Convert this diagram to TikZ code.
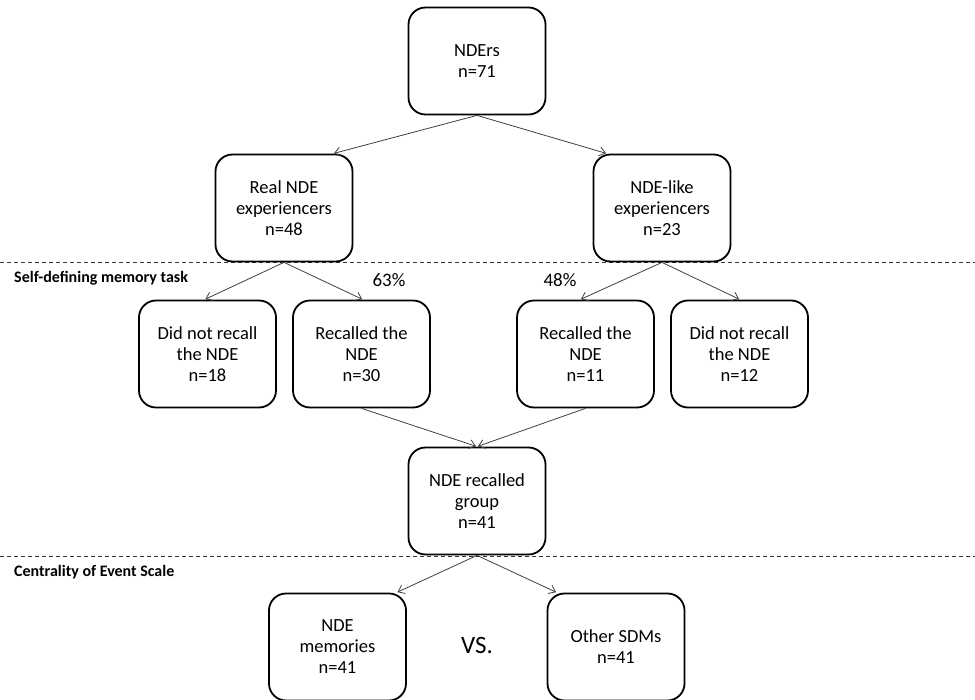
\documentclass[tikz,border=0pt]{standalone}
\usepackage{fontspec}
\setmainfont{Carlito}
\usetikzlibrary{arrows.meta}
\begin{document}
\begin{tikzpicture}[x=1pt,y=-1pt,
  box/.style={draw=black, line width=1.8pt, rounded corners=17pt, minimum width=137pt, minimum height=107pt, align=center, inner sep=2pt, font=\fontsize{18.5}{21}\selectfont},
  conn/.style={draw=black!75, line width=0.8pt, -{Straight Barb[length=6pt,width=9pt]}, shorten >=1pt},
  sep/.style={draw=black!80, line width=0.8pt, dash pattern=on 4pt off 3pt},
  head/.style={font=\fontsize{16}{18}\selectfont\bfseries, anchor=west, inner sep=0pt},
  pct/.style={font=\fontsize{19}{22}\selectfont, inner sep=0pt}]
\useasboundingbox (0,0) rectangle (975,700);
% separators
\coordinate (s1l) at (0,262);
\coordinate (s1r) at (975,262);
\coordinate (s2l) at (0,556);
\coordinate (s2r) at (975,556);
\draw[sep] (s1l) -- (s1r);
\draw[sep] (s2l) -- (s2r);
% boxes
\node[box] (nders) at (477,61) {NDErs\\n=71};
\node[box] (real) at (284,208) {Real NDE\\experiencers\\n=48};
\node[box] (like) at (662,208) {NDE-like\\experiencers\\n=23};
\node[box] (dnl) at (207.5,354) {Did not recall\\the NDE\\n=18};
\node[box] (rl) at (361.5,354) {Recalled the\\NDE\\n=30};
\node[box] (rr) at (585.5,354) {Recalled the\\NDE\\n=11};
\node[box] (dnr) at (739.5,354) {Did not recall\\the NDE\\n=12};
\node[box] (grp) at (477,501) {NDE recalled\\group\\n=41};
\node[box] (mem) at (337.5,647) {NDE\\memories\\n=41};
\node[box] (sdm) at (616,647) {Other SDMs\\n=41};
% labels
\node[head] (h1) at (14,278) {Self-defining memory task};
\node[head] (h2) at (14,572) {Centrality of Event Scale};
\node[pct] (p1) at (389,280) {63\%};
\node[pct] (p2) at (560,280) {48\%};
\node[font=\fontsize{25}{28}\selectfont, inner sep=0pt] (vs) at (477,645) {VS.};
% connectors
\draw[conn] (nders.south) -- ([xshift=49pt]real.north);
\draw[conn] (nders.south) -- ([xshift=-55pt]like.north);
\draw[conn] (real.south) -- ([xshift=-3pt]dnl.north);
\draw[conn] (real.south) -- ([xshift=1.5pt]rl.north);
\draw[conn] (like.south) -- ([xshift=-5.5pt]rr.north);
\draw[conn] (like.south) -- ([xshift=0.5pt]dnr.north);
\draw[conn] (rl.south) -- (grp.north);
\draw[conn] (rr.south) -- (grp.north);
\draw[conn] (grp.south) -- ([xshift=59pt]mem.north);
\draw[conn] (grp.south) -- ([xshift=-59pt]sdm.north);
\end{tikzpicture}
\end{document}
